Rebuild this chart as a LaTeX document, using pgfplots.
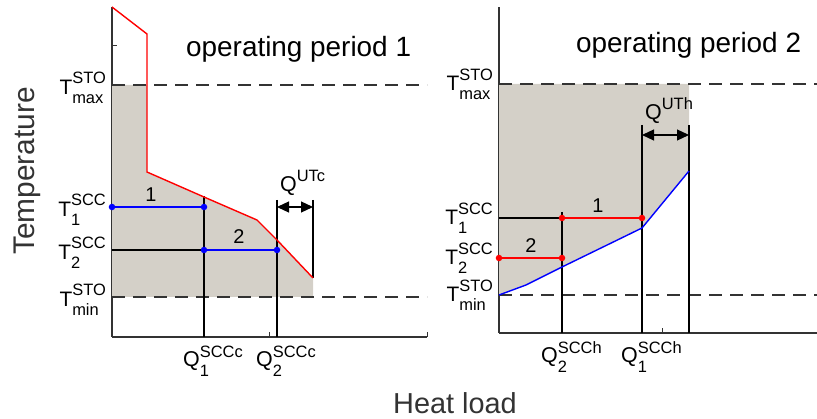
\documentclass[border=0pt]{standalone}
\usepackage{fontspec}
\setmainfont{Liberation Sans}
\usepackage{pgfplots}
\pgfplotsset{compat=1.18}
\usetikzlibrary{arrows.meta}
\definecolor{fillgray}{HTML}{D4D0C8}
\definecolor{axgray}{HTML}{333333}
\definecolor{myred}{HTML}{FF0000}
\definecolor{myblue}{HTML}{0000FF}
\newcommand{\stk}[3]{\raisebox{#3}{\fontsize{16.5}{20}\selectfont\begin{tabular}[b]{@{}l@{}}#1\\#2\end{tabular}}}
\newcommand{\Tl}[2]{{\fontsize{21}{24}\selectfont T}\stk{#1}{#2}{-9bp}}
\newcommand{\Ql}[2]{{\fontsize{21.5}{24}\selectfont Q}\stk{#1}{#2}{-10bp}}
\newcommand{\Qu}[1]{{\fontsize{21.5}{24}\selectfont Q}\raisebox{10bp}{\fontsize{16.5}{20}\selectfont #1}}
\pgfplotsset{
  panel/.style={
    scale only axis, clip=false,
    axis x line*=bottom, axis y line*=left,
    axis line style={axgray, line width=1.2bp},
    major tick length=0pt,
    xticklabel style={anchor=base west, inner sep=0pt, xshift=-21bp, yshift=-30bp},
    extra tick style={major tick length=5bp, tick style={axgray, line width=1bp}},
  },
  dashline/.style={axgray, line width=1.8bp, dash pattern=on 13bp off 8bp},
  vline/.style={black, line width=1.2bp},
  dblarrow/.style={black, line width=1.2bp, arrows={Triangle[length=12bp,width=11bp]-Triangle[length=12bp,width=11bp]}},
}
\begin{document}
\begin{tikzpicture}
\useasboundingbox (0,0) rectangle (817bp,419bp);
% ---------------- left panel ----------------
\begin{axis}[panel, at={(112bp,82bp)}, anchor=south west,
  width=315bp, height=330bp, xmin=0, xmax=315, ymin=0, ymax=330,
  yticklabel style={anchor=base east, inner sep=0pt, xshift=-6bp, yshift=-9.5bp},
  ytick={252,130,87,40},
  yticklabels={\Tl{STO}{max},\Tl{SCC}{1},\Tl{SCC}{2},\Tl{STO}{min}},
  xtick={92,165},
  xticklabels={\Ql{SCCc}{1},\Ql{SCCc}{2}},
  extra y ticks={291}, extra y tick labels={},
  extra x ticks={157,315}, extra x tick labels={},
]
\addplot[fill=fillgray, draw=none] coordinates {(0,252) (35,252) (35,165) (92,140) (145,117) (165,97) (201,59) (201,40) (0,40)} -- cycle;
\addplot[dashline] coordinates {(0,252) (315,252)};
\addplot[dashline] coordinates {(0,40) (315,40)};
\addplot[vline] coordinates {(92,141) (92,0)};
\addplot[vline] coordinates {(165,137) (165,0)};
\addplot[vline] coordinates {(201,137) (201,59)};
\addplot[vline] coordinates {(0,87) (92,87)};
\addplot[dblarrow] coordinates {(165,130) (201,130)};
\addplot[myred, line width=1.4bp] coordinates {(0,330) (35,303) (35,165) (92,140) (145,117) (165,97) (201,59)};
\addplot[myblue, line width=1.4bp, mark=*, mark size=2.5bp] coordinates {(0,130) (92,130)};
\addplot[myblue, line width=1.4bp, mark=*, mark size=2.5bp] coordinates {(92,87) (165,87)};
\node[font=\fontsize{20}{22}\selectfont] at (axis cs:39,142) {1};
\node[font=\fontsize{20}{22}\selectfont] at (axis cs:127,100) {2};
\node[anchor=base west, inner sep=0pt] at (axis cs:168,145) {\Qu{UTc}};
\node[anchor=base west, font=\fontsize{28}{30}\selectfont, inner sep=0pt] at (axis cs:74,280) {operating period 1};
\end{axis}
% ---------------- right panel ----------------
\begin{axis}[panel, at={(499bp,86bp)}, anchor=south west,
  width=318bp, height=326bp, xmin=0, xmax=318, ymin=0, ymax=326,
  yticklabel style={anchor=base east, inner sep=0pt, xshift=-6bp, yshift=-7bp},
  ytick={249,115,75,38},
  yticklabels={\Tl{STO}{max},\Tl{SCC}{1},\Tl{SCC}{2},\Tl{STO}{min}},
  xtick={63,143},
  xticklabels={\Ql{SCCh}{2},\Ql{SCCh}{1}},
  extra x ticks={163}, extra x tick labels={},
]
\addplot[fill=fillgray, draw=none] coordinates {(0,249) (190,249) (190,162) (143,105) (63,66) (27,48) (0,38)} -- cycle;
\addplot[dashline] coordinates {(0,249) (318,249)};
\addplot[dashline] coordinates {(0,38) (318,38)};
\addplot[vline] coordinates {(63,121) (63,0)};
\addplot[vline] coordinates {(143,208) (143,0)};
\addplot[vline] coordinates {(190,208) (190,0)};
\addplot[vline] coordinates {(0,115) (63,115)};
\addplot[dblarrow] coordinates {(143,198) (190,198)};
\addplot[myblue, line width=1.4bp] coordinates {(0,38) (27,48) (63,66) (143,105) (190,162)};
\addplot[myred, line width=1.4bp, mark=*, mark size=2.5bp] coordinates {(63,115) (143,115)};
\addplot[myred, line width=1.4bp, mark=*, mark size=2.5bp] coordinates {(0,75) (63,75)};
\node[font=\fontsize{20}{22}\selectfont] at (axis cs:99,127) {1};
\node[font=\fontsize{20}{22}\selectfont] at (axis cs:32,87) {2};
\node[anchor=base west, inner sep=0pt] at (axis cs:146,213) {\Qu{UTh}};
\node[anchor=base west, font=\fontsize{28}{30}\selectfont, inner sep=0pt] at (axis cs:77,280) {operating period 2};
\end{axis}
\node[rotate=90, font=\fontsize{30}{32}\selectfont, text=axgray] at (27bp,248bp) {Temperature};
\node[anchor=base, font=\fontsize{29}{31}\selectfont, text=axgray, inner sep=0pt] at (455bp,6bp) {Heat load};
\end{tikzpicture}
\end{document}
